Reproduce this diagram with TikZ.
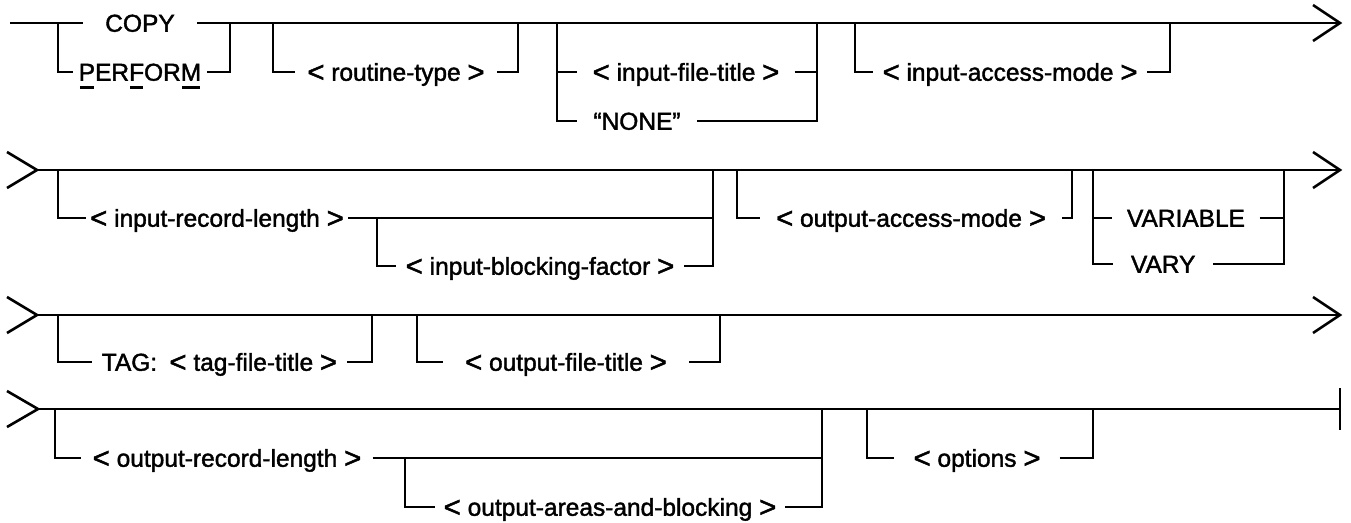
\documentclass[tikz,border=0pt]{standalone}
\usepackage{graphicx}
\usepackage{fontspec}
\setmainfont{Liberation Sans}
\newfontfamily\railfont{Liberation Sans}[FakeBold=1.6]
\usetikzlibrary{calc}
\newcommand\ulmark[1]{\setbox0\hbox{#1}\rlap{\raisebox{-8pt}{\hbox to \wd0{\hss\rule{0.85\wd0}{2.4pt}\hss}}}\box0}
\newcommand\lang{\raisebox{-0.05em}{\scalebox{1.2}{<}}}
\newcommand\rang{\raisebox{-0.05em}{\scalebox{1.2}{>}}}
\tikzset{
  rail/.style={line width=2.6pt},
  term/.style={inner sep=0pt, text height=17.5pt, text depth=0pt, minimum height=17.5pt,
               font=\railfont\fontsize{24.5}{28}\selectfont},
}
\begin{document}
\begin{tikzpicture}[x=1pt,y=-1pt]
\fill[white] (0,0) rectangle (1351,522);
\useasboundingbox (0,0) rectangle (1351,522);

% ---------------- Row 1 ----------------
\coordinate (s1) at (10,23);
\coordinate (e1) at (1340,23);
\coordinate (j1a) at (58,23);
\coordinate (j1c) at (230,23);
\coordinate (j1d) at (273,23);
\coordinate (j1e) at (518,23);
\coordinate (j1f) at (557,23);
\coordinate (j1g) at (817,23);
\coordinate (j1h) at (855,23);
\coordinate (j1i) at (1170,23);

\node[term, minimum width=114pt] (copy) at (140,23) {COPY};
\node[term, minimum width=134pt] (perform) at (140,72) {\ulmark{P}ER\ulmark{F}OR\ulmark{M}};
\node[term, minimum width=202pt] (rtype) at (396,72) {\lang\ routine-type \rang};
\node[term, minimum width=217pt] (ift) at (686,72) {\lang\ input-file-title \rang};
\node[term, minimum width=120pt] (none) at (637,121) {“NONE”};
\node[term, minimum width=274pt] (iam) at (1010,72) {\lang\ input-access-mode \rang};

\draw[rail] (s1) -- (copy.west);
\draw[rail] (copy.east) -- (e1);
\draw[rail] (j1a) |- (perform.west);
\draw[rail] (perform.east) -| (j1c);
\draw[rail] (j1d) |- (rtype.west);
\draw[rail] (rtype.east) -| (j1e);
\draw[rail] (j1f) |- (ift.west);
\draw[rail] (j1f) |- (none.west);
\draw[rail] (ift.east) -| (j1g);
\draw[rail] (none.east) -| (j1g);
\draw[rail] (j1h) |- (iam.west);
\draw[rail] (iam.east) -| (j1i);
\draw[rail] ($(e1)+(-27,-18)$) -- (e1) -- ($(e1)+(-27,18)$);

% ---------------- Row 2 ----------------
\coordinate (s2) at (37,170);
\coordinate (e2) at (1340,170);
\coordinate (j2a) at (58,170);
\coordinate (j2b) at (377,218);
\coordinate (j2c) at (713,170);
\coordinate (j2d) at (737,170);
\coordinate (j2e) at (1072,170);
\coordinate (j2f) at (1093,170);
\coordinate (j2g) at (1284,170);

\node[term, minimum width=262pt] (irl) at (217,218) {\lang\ input-record-length \rang};
\node[term, minimum width=288pt] (ibf) at (540,266) {\lang\ input-blocking-factor \rang};
\node[term, minimum width=302pt] (oam) at (911,218) {\lang\ output-access-mode \rang};
\node[term, minimum width=147pt] (var) at (1186,218) {VARIABLE};
\node[term, minimum width=100pt, anchor=west] (vary) at (1113,264) {VARY};

\draw[rail] ($(s2)+(-30,-18)$) -- (s2) -- ($(s2)+(-30,18)$);
\draw[rail] (s2) -- (e2);
\draw[rail] ($(e2)+(-27,-18)$) -- (e2) -- ($(e2)+(-27,18)$);
\draw[rail] (j2a) |- (irl.west);
\draw[rail] (irl.east) -| (j2c);
\draw[rail] (j2b) |- (ibf.west);
\draw[rail] (ibf.east) -| (j2c);
\draw[rail] (j2d) |- (oam.west);
\draw[rail] (oam.east) -| (j2e);
\draw[rail] (j2f) |- (var.west);
\draw[rail] (j2f) |- (vary.west);
\draw[rail] (var.east) -| (j2g);
\draw[rail] (vary.east) -| (j2g);

% ---------------- Row 3 ----------------
\coordinate (s3) at (37,315);
\coordinate (e3) at (1340,315);
\coordinate (j3a) at (58,315);
\coordinate (j3b) at (372,315);
\coordinate (j3c) at (417,315);
\coordinate (j3d) at (720,315);

\node[term, minimum width=255pt] (tag) at (219.5,362) {TAG:\hspace{0.5em}\lang\ tag-file-title \rang};
\node[term, minimum width=246pt] (oft) at (566,362) {\lang\ output-file-title \rang};

\draw[rail] ($(s3)+(-30,-18)$) -- (s3) -- ($(s3)+(-30,18)$);
\draw[rail] (s3) -- (e3);
\draw[rail] ($(e3)+(-27,-18)$) -- (e3) -- ($(e3)+(-27,18)$);
\draw[rail] (j3a) |- (tag.west);
\draw[rail] (tag.east) -| (j3b);
\draw[rail] (j3c) |- (oft.west);
\draw[rail] (oft.east) -| (j3d);

% ---------------- Row 4 ----------------
\coordinate (s4) at (38,409);
\coordinate (e4) at (1340,409);
\coordinate (j4a) at (55,409);
\coordinate (j4b) at (405,458);
\coordinate (j4c) at (822,409);
\coordinate (j4d) at (867,409);
\coordinate (j4e) at (1093,409);

\node[term, minimum width=291pt] (orl) at (227,458) {\lang\ output-record-length \rang};
\node[term, minimum width=350pt] (oab) at (610,507) {\lang\ output-areas-and-blocking \rang};
\node[term, minimum width=165pt] (opt) at (977,458) {\lang\ options \rang};

\draw[rail] ($(s4)+(-31,-18)$) -- (s4) -- ($(s4)+(-31,18)$);
\draw[rail] (s4) -- (e4);
\draw[rail] ($(e4)+(0,-21)$) -- ($(e4)+(0,21)$);
\draw[rail] (j4a) |- (orl.west);
\draw[rail] (orl.east) -| (j4c);
\draw[rail] (j4b) |- (oab.west);
\draw[rail] (oab.east) -| (j4c);
\draw[rail] (j4d) |- (opt.west);
\draw[rail] (opt.east) -| (j4e);
\end{tikzpicture}
\end{document}
